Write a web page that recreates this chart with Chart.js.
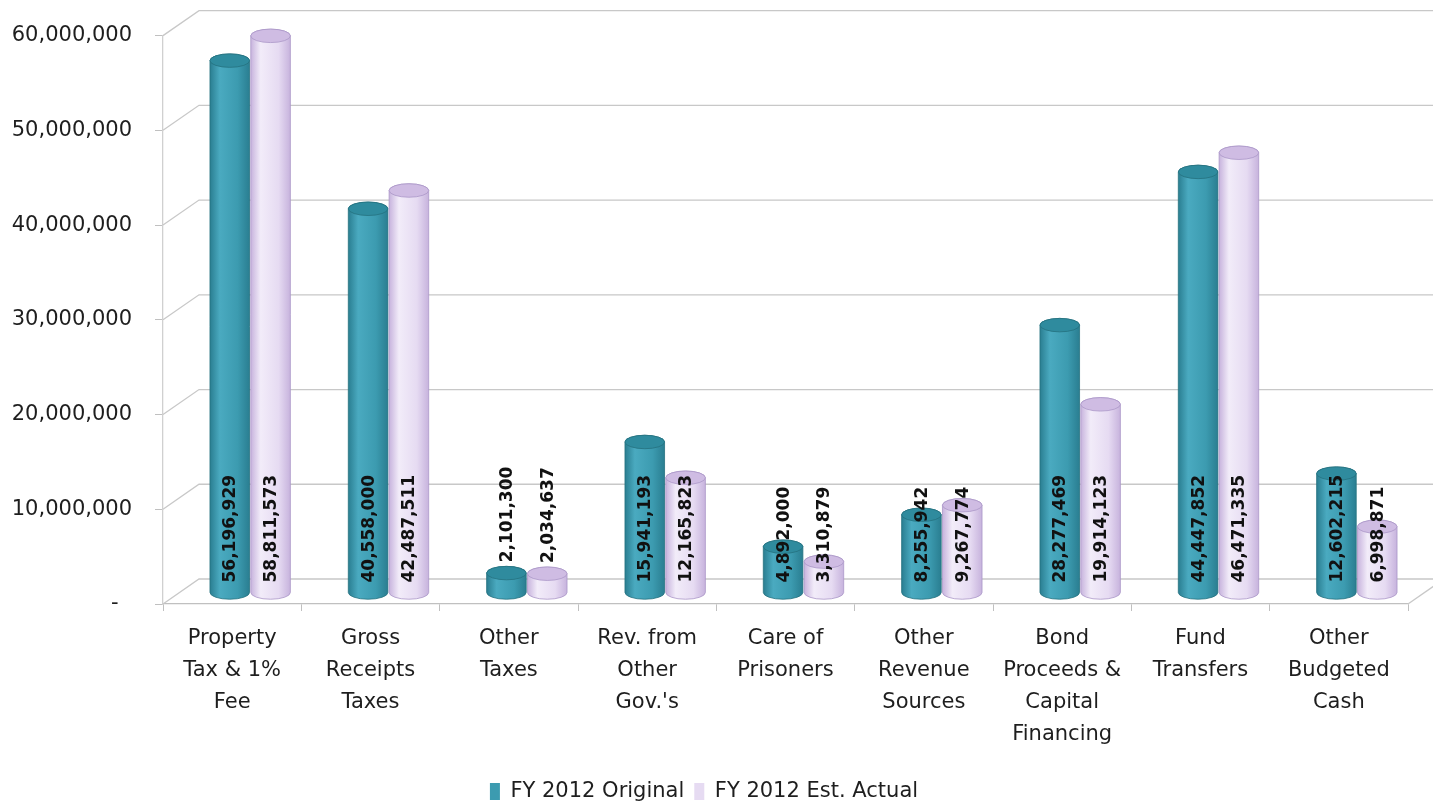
<!DOCTYPE html>
<html>
<head>
<meta charset="utf-8">
<script src="https://cdn.jsdelivr.net/npm/chart.js@4.4.0/dist/chart.umd.min.js"></script>
<style>
  html, body { margin: 0; padding: 0; background: #fff; }
</style>
</head>
<body>
<canvas id="chart" width="1433" height="805"></canvas>
<script>
const categories = [
  ['Property', 'Tax & 1%', 'Fee'],
  ['Gross', 'Receipts', 'Taxes'],
  ['Other', 'Taxes'],
  ['Rev. from', 'Other', "Gov.'s"],
  ['Care of', 'Prisoners'],
  ['Other', 'Revenue', 'Sources'],
  ['Bond', 'Proceeds &', 'Capital', 'Financing'],
  ['Fund', 'Transfers'],
  ['Other', 'Budgeted', 'Cash']
];
const fyOriginal = [56196929, 40558000, 2101300, 15941193, 4892000, 8255942, 28277469, 44447852, 12602215];
const fyEstActual = [58811573, 42487511, 2034637, 12165823, 3310879, 9267774, 19914123, 46471335, 6998871];
const seriesNames = ['FY 2012 Original', 'FY 2012 Est. Actual'];
const yTicks = [0, 10000000, 20000000, 30000000, 40000000, 50000000, 60000000];

const FONT = '"DejaVu Sans", Verdana, sans-serif';

// cylinder colours per series
const palette = [
  { base: '#3c9bb0', edge: '#2a7e91', light: '#4aaac0', top: '#2f8b9e', line: '#25717f' },
  { base: '#e6dbf2', edge: '#c7b3dd', light: '#f2ecf9', top: '#cfbce3', line: '#ab97c8' }
];

// fake 3D: back wall offset and bar depth offset
const depth = { wallX: 36, wallY: 25, barX: 18, barY: 11 };

function fmt(v) {
  return v === 0 ? '-\u00a0\u00a0' : v.toLocaleString('en-US');
}

function cylGeom(bar) {
  const p = bar.getProps(['x', 'y', 'base', 'width'], true);
  return {
    cx: p.x + depth.barX,
    top: p.y - depth.barY,
    bot: p.base - depth.barY,
    rx: p.width / 2,
    ry: p.width * 0.17
  };
}

function drawCylinder(ctx, bar, col) {
  const { cx, top, bot, rx, ry } = cylGeom(bar);
  const g = ctx.createLinearGradient(cx - rx, 0, cx + rx, 0);
  g.addColorStop(0, col.edge);
  g.addColorStop(0.25, col.light);
  g.addColorStop(0.7, col.base);
  g.addColorStop(1, col.edge);

  ctx.save();
  ctx.beginPath();
  ctx.moveTo(cx - rx, top);
  ctx.lineTo(cx - rx, bot);
  ctx.ellipse(cx, bot, rx, ry, 0, Math.PI, 0, true);
  ctx.lineTo(cx + rx, top);
  ctx.ellipse(cx, top, rx, ry, 0, 0, Math.PI, true);
  ctx.closePath();
  ctx.fillStyle = g;
  ctx.fill();
  ctx.strokeStyle = col.line;
  ctx.lineWidth = 0.8;
  ctx.stroke();

  // top cap
  ctx.beginPath();
  ctx.ellipse(cx, top, rx, ry, 0, 0, Math.PI * 2);
  ctx.fillStyle = col.top;
  ctx.fill();
  ctx.stroke();
  ctx.restore();
}

const cylinders = {
  id: 'cylinders',
  beforeDatasetsDraw(chart) {
    const { ctx, chartArea: a, scales: { y } } = chart;
    ctx.save();
    ctx.strokeStyle = '#c8c8c8';
    ctx.lineWidth = 1.3;
    yTicks.forEach(v => {
      const py = y.getPixelForValue(v);
      ctx.beginPath();
      ctx.moveTo(a.left, py);
      ctx.lineTo(a.left + depth.wallX, py - depth.wallY);
      ctx.lineTo(chart.width + 10, py - depth.wallY);
      ctx.stroke();
    });
    const py0 = y.getPixelForValue(0);
    ctx.beginPath();
    ctx.moveTo(a.right, py0);
    ctx.lineTo(a.right + depth.wallX, py0 - depth.wallY);
    ctx.stroke();
    ctx.restore();

    const n = chart.data.labels.length;
    for (let i = 0; i < n; i++) {
      chart.data.datasets.forEach((ds, di) => {
        drawCylinder(ctx, chart.getDatasetMeta(di).data[i], palette[di]);
      });
    }
    return false; // skip default flat bars
  },
  afterDraw(chart) {
    const ctx = chart.ctx;
    ctx.save();
    ctx.font = 'bold 17px ' + FONT;
    ctx.fillStyle = '#111';
    ctx.textAlign = 'left';
    ctx.textBaseline = 'middle';
    chart.data.datasets.forEach((ds, di) => {
      chart.getDatasetMeta(di).data.forEach((bar, i) => {
        const { cx, top, bot, ry } = cylGeom(bar);
        const start = (bot - top < 25) ? top - ry - 4 : bot - 10;
        ctx.save();
        ctx.translate(cx, start);
        ctx.rotate(-Math.PI / 2);
        ctx.fillText(ds.data[i].toLocaleString('en-US'), 0, 1);
        ctx.restore();
      });
    });
    ctx.restore();
  }
};

new Chart(document.getElementById('chart'), {
  type: 'bar',
  data: {
    labels: categories,
    datasets: [
      { label: seriesNames[0], data: fyOriginal, backgroundColor: palette[0].base, borderWidth: 0 },
      { label: seriesNames[1], data: fyEstActual, backgroundColor: palette[1].base, borderWidth: 0 }
    ]
  },
  plugins: [cylinders],
  options: {
    responsive: false,
    animation: false,
    devicePixelRatio: 1,
    layout: { padding: { left: 0, right: 25, top: 35, bottom: -7 } },
    datasets: {
      bar: { categoryPercentage: 0.59, barPercentage: 0.97 }
    },
    scales: {
      x: {
        grid: { drawOnChartArea: false, tickLength: 7, color: '#c0c0c0', offset: true },
        border: { color: '#c0c0c0', width: 1.3 },
        ticks: {
          autoSkip: false,
          maxRotation: 0,
          padding: 12,
          color: '#1e1e1e',
          font: { family: FONT, size: 21, lineHeight: 32 / 21 }
        },
        afterFit(s) { s.height = 167; }
      },
      y: {
        min: 0,
        max: 60000000,
        afterBuildTicks(s) { s.ticks = yTicks.map(v => ({ value: v })); },
        grid: { drawOnChartArea: false, tickLength: 8, color: '#c0c0c0' },
        border: { color: '#d0d0d0', width: 1.3 },
        ticks: {
          padding: 23,
          color: '#1e1e1e',
          font: { family: FONT, size: 21 },
          callback: v => fmt(v)
        },
        afterFit(s) { s.width = 163; }
      }
    },
    plugins: {
      tooltip: { enabled: false },
      legend: {
        position: 'bottom',
        labels: {
          boxWidth: 10,
          boxHeight: 17,
          padding: 10,
          color: '#1e1e1e',
          font: { family: FONT, size: 21 }
        }
      }
    }
  }
});
</script>
</body>
</html>
